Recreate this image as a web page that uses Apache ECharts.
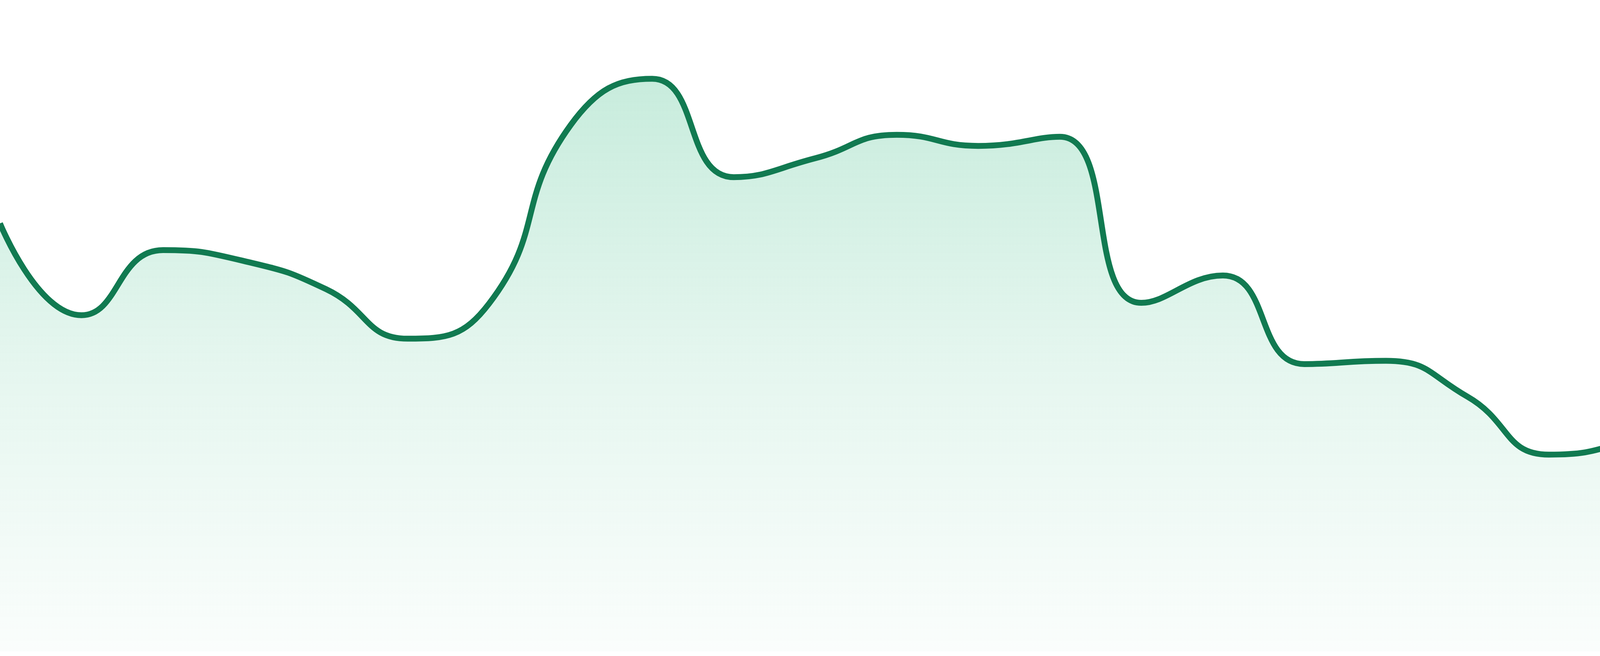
<!DOCTYPE html>
<html>
<head>
<meta charset="utf-8">
<title>Area trend</title>
<script src="https://cdn.jsdelivr.net/npm/echarts@6/dist/echarts.min.js"></script>
<style>
    html, body { margin: 0; padding: 0; background: #ffffff; }
    #chart { width: 4800px; height: 1680px; }
</style>
</head>
<body>
<div id="chart"></div>
<script>
// one value per step (arbitrary 0-100 scale)
var steps = [];
var values = [
    65.7, 51.6, 61.6, 59.9, 55.6, 48.0, 53.4, 80.8,
    87.9, 72.8, 75.7, 79.3, 77.6, 79.0, 53.5, 57.7,
    44.1, 44.6, 39.1, 30.2, 32.4, 37.4, 31.7, 36.0
];
for (var i = 0; i < values.length; i++) steps.push(String(i + 1));

var lineColor = "#117a51";

var chart = echarts.init(document.getElementById("chart"));

chart.setOption({
    animation: false,
    grid: { left: 0, right: 0, top: 0, bottom: 12 },
    xAxis: {
        type: "category",
        data: steps,
        boundaryGap: false,
        show: false
    },
    yAxis: {
        type: "value",
        min: 0,
        max: 100,
        show: false
    },
    series: [
        {
            type: "line",
            data: values,
            smooth: true,
            showSymbol: false,
            lineStyle: { color: lineColor, width: 15 },
            areaStyle: {
                color: new echarts.graphic.LinearGradient(0, 0, 0, 1, [
                    { offset: 0, color: "rgba(36,180,119,0.36)" },
                    { offset: 0.5, color: "rgba(36,180,119,0.17)" },
                    { offset: 1, color: "rgba(36,180,119,0.03)" }
                ])
            }
        }
    ]
});
</script>
</body>
</html>
